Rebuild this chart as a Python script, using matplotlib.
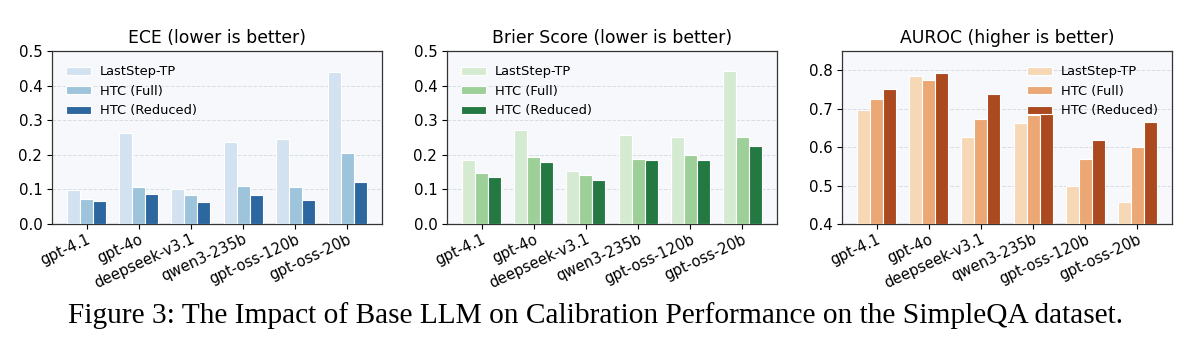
import matplotlib
matplotlib.use("Agg")
import matplotlib.pyplot as plt
import numpy as np

models = ["gpt-4.1", "gpt-4o", "deepseek-v3.1", "qwen3-235b", "gpt-oss-120b", "gpt-oss-20b"]
series = ["LastStep-TP", "HTC (Full)", "HTC (Reduced)"]

ece_laststep = [0.098, 0.263, 0.102, 0.237, 0.247, 0.440]
ece_full = [0.072, 0.106, 0.085, 0.109, 0.108, 0.205]
ece_reduced = [0.066, 0.086, 0.063, 0.084, 0.068, 0.122]

brier_laststep = [0.185, 0.271, 0.153, 0.256, 0.252, 0.443]
brier_full = [0.147, 0.193, 0.142, 0.189, 0.200, 0.252]
brier_reduced = [0.137, 0.180, 0.127, 0.186, 0.184, 0.224]

auroc_laststep = [0.697, 0.786, 0.627, 0.662, 0.498, 0.456]
auroc_full = [0.726, 0.774, 0.674, 0.683, 0.569, 0.601]
auroc_reduced = [0.751, 0.792, 0.738, 0.693, 0.618, 0.666]

titles = ["ECE (lower is better)", "Brier Score (lower is better)", "AUROC (higher is better)"]
caption = "Figure 3: The Impact of Base LLM on Calibration Performance on the SimpleQA dataset."

blues = ["#d3e2f0", "#9dc4da", "#2c67a0"]
greens = ["#d5ebd1", "#9dcf98", "#247842"]
oranges = ["#f6d8b7", "#eba774", "#ab491f"]

fig = plt.figure(figsize=(11.9, 3.52), dpi=100)
lefts = [52 / 1190, 447 / 1190, 842 / 1190]
w = 330 / 1190
b = 1 - 224 / 352
h = 173 / 352

data = [
    (ece_laststep, ece_full, ece_reduced, blues, (0, 0.5), "upper left"),
    (brier_laststep, brier_full, brier_reduced, greens, (0, 0.5), "upper left"),
    (auroc_laststep, auroc_full, auroc_reduced, oranges, (0.4, 0.85), "upper right"),
]

x = np.arange(len(models))
bw = 0.25
for i, (s1, s2, s3, cols, ylim, loc) in enumerate(data):
    ax = fig.add_axes([lefts[i], b, w, h])
    ax.set_facecolor("#f6f8fb")
    for j, (vals, c) in enumerate(zip([s1, s2, s3], cols)):
        base = ylim[0]
        ax.bar(x + (j - 1) * bw, np.array(vals) - base, bw, bottom=base, color=c,
               edgecolor="white", linewidth=0.8, label=series[j], zorder=3)
    ax.set_ylim(*ylim)
    ax.set_xticks(x)
    ax.set_xticklabels(models, rotation=25, ha="right", rotation_mode="anchor", fontsize=10.6)
    ax.tick_params(axis="y", labelsize=10.8)
    ax.tick_params(axis="x", pad=2)
    ax.yaxis.grid(True, linestyle="--", color="#d8dde3", linewidth=0.7, zorder=0)
    ax.set_axisbelow(True)
    for sp in ax.spines.values():
        sp.set_color("#333333")
        sp.set_linewidth(0.9)
    ax.set_title(titles[i], fontsize=12.4, pad=6)
    ax.legend(loc=loc, frameon=False, fontsize=9.4, handlelength=1.85, handleheight=0.6,
              handletextpad=0.7, labelspacing=0.5, borderaxespad=0.7)

fig.text(0.5, 1 - 316 / 352, caption, ha="center", va="center",
         fontsize=21.2, family="Liberation Serif")

fig.savefig("out.png", dpi=100)
